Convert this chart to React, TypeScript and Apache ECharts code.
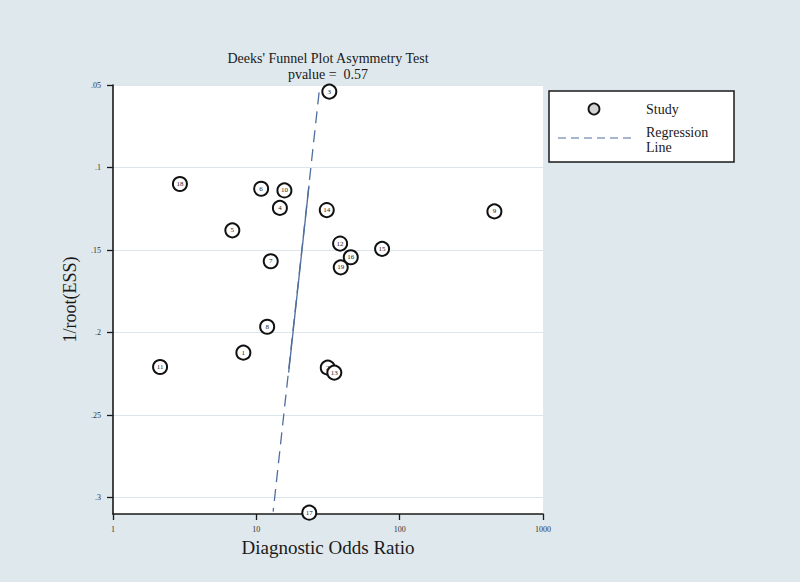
import React, { useEffect, useRef } from "react";
import * as echarts from "echarts";

// ---- data ----
const studyIds = ["1", "2", "3", "4", "5", "6", "7", "8", "9", "10", "11", "12", "13", "14", "15", "16", "17", "18", "19"];
const diagnosticOddsRatio = [8.12, 31.5, 32.3, 14.6, 6.8, 10.8, 12.6, 11.9, 458, 15.7, 2.13, 38.4, 35.0, 31.0, 75.4, 45.6, 23.4, 2.93, 38.8];
const invRootEss = [0.2122, 0.2213, 0.054, 0.1245, 0.1381, 0.1129, 0.1568, 0.1965, 0.1266, 0.1139, 0.2209, 0.1461, 0.2243, 0.1258, 0.1493, 0.1544, 0.3092, 0.11, 0.1605];

const regressionDor = [27.4, 13.1];
const regressionY = [0.0545, 0.3086];
const regressionSolidDor = [23.3, 16.8];
const regressionSolidY = [0.111, 0.2243];

const xTickValues = [1, 10, 100, 1000];
const yTickValues = [0.05, 0.1, 0.15, 0.2, 0.25, 0.3];

const titleText = "Deeks' Funnel Plot Asymmetry Test";
const pvalueText = "pvalue =  0.57";

const SERIF = "'Liberation Serif', 'DejaVu Serif', serif";
const INK = "#1a1a1a";
const LINE_BLUE = "#4f6e9e";

export default function App() {
  const ref = useRef<HTMLDivElement>(null);

  useEffect(() => {
    if (!ref.current) return;
    const chart = echarts.init(ref.current, null, { renderer: "svg" });

    const studyData = studyIds.map((id, i) => ({
      name: id,
      value: [diagnosticOddsRatio[i], invRootEss[i]],
    }));

    const option = {
      animation: false,
      backgroundColor: "#dfe8ec",
      grid: {
        left: 113,
        top: 85,
        width: 430,
        height: 429,
        show: true,
        backgroundColor: "#ffffff",
        borderWidth: 0,
      },
      xAxis: {
        type: "log",
        logBase: 10,
        min: 1,
        max: 1000,
        name: "Diagnostic Odds Ratio",
        nameLocation: "middle",
        nameGap: 22,
        nameTextStyle: { fontFamily: SERIF, fontSize: 19, color: INK },
        axisLine: { show: true, onZero: false, lineStyle: { color: INK, width: 1.6 } },
        axisTick: { show: true, length: 6, lineStyle: { color: INK, width: 1.3 }, customValues: xTickValues },
        minorTick: { show: false },
        axisLabel: {
          fontFamily: SERIF,
          fontSize: 8,
          color: "#333",
          margin: 11,
          customValues: xTickValues,
          formatter: (v: number) => String(Math.round(v)),
        },
        splitLine: { show: false },
      },
      yAxis: {
        type: "value",
        inverse: true,
        min: 0.05,
        max: 0.31,
        interval: 0.05,
        name: "1/root(ESS)",
        nameLocation: "middle",
        nameGap: 34,
        nameRotate: 90,
        nameTextStyle: { fontFamily: SERIF, fontSize: 18, color: INK },
        axisLine: { show: true, onZero: false, lineStyle: { color: INK, width: 1.6 } },
        axisTick: { show: true, length: 6, lineStyle: { color: INK, width: 1.3 }, customValues: yTickValues },
        axisLabel: {
          fontFamily: SERIF,
          fontSize: 8,
          color: "#333",
          margin: 12,
          customValues: yTickValues,
          formatter: (v: number) => {
            const r = Math.round(v * 100) / 100;
            return String(r).replace(/^0/, "");
          },
        },
        splitLine: { show: true, lineStyle: { color: "#dbe6ec", width: 1.2 } },
      },
      series: [
        {
          type: "line",
          name: "Regression Line",
          data: regressionDor.map((d, i) => [d, regressionY[i]]),
          symbol: "none",
          lineStyle: { color: LINE_BLUE, width: 1.3, type: [12, 7] },
          z: 2,
          silent: true,
        },
        {
          type: "line",
          name: "Regression Line solid part",
          data: regressionSolidDor.map((d, i) => [d, regressionSolidY[i]]),
          symbol: "none",
          lineStyle: { color: LINE_BLUE, width: 1.3 },
          z: 2,
          silent: true,
        },
        {
          type: "scatter",
          name: "Study",
          data: studyData,
          symbol: "circle",
          symbolSize: 14,
          clip: false,
          itemStyle: { color: "#ffffff", borderColor: "#111", borderWidth: 2, opacity: 1 },
          label: {
            show: true,
            position: "inside",
            formatter: (p: any) => p.name,
            fontFamily: SERIF,
            fontSize: 7,
            color: "#222",
          },
          z: 5,
        },
      ],
      graphic: [
        {
          type: "text",
          x: 328,
          y: 58,
          style: {
            text: titleText,
            fontFamily: SERIF,
            fontSize: 14,
            fill: INK,
            textAlign: "center",
            textVerticalAlign: "middle",
          },
        },
        {
          type: "text",
          x: 328,
          y: 74,
          style: {
            text: pvalueText,
            fontFamily: SERIF,
            fontSize: 14,
            fill: INK,
            textAlign: "center",
            textVerticalAlign: "middle",
          },
        },
        {
          type: "rect",
          shape: { x: 549, y: 91, width: 185, height: 71 },
          style: { fill: "#ffffff", stroke: INK, lineWidth: 1.5 },
        },
        {
          type: "circle",
          shape: { cx: 594, cy: 109, r: 5.5 },
          style: { fill: "#d2d2d2", stroke: "#111", lineWidth: 1.8 },
        },
        {
          type: "text",
          x: 646,
          y: 109,
          style: { text: "Study", fontFamily: SERIF, fontSize: 14, fill: INK, textVerticalAlign: "middle" },
        },
        {
          type: "line",
          shape: { x1: 558, y1: 138, x2: 633, y2: 138 },
          style: { stroke: LINE_BLUE, lineWidth: 1.2, lineDash: [8, 5] },
        },
        {
          type: "text",
          x: 646,
          y: 132,
          style: { text: "Regression", fontFamily: SERIF, fontSize: 14, fill: INK, textVerticalAlign: "middle" },
        },
        {
          type: "text",
          x: 646,
          y: 147,
          style: { text: "Line", fontFamily: SERIF, fontSize: 14, fill: INK, textVerticalAlign: "middle" },
        },
      ],
    };

    chart.setOption(option as any);
    return () => chart.dispose();
  }, []);

  return (
    <div
      ref={ref}
      style={{ position: "fixed", left: 0, top: 0, width: 800, height: 582 }}
    />
  );
}
